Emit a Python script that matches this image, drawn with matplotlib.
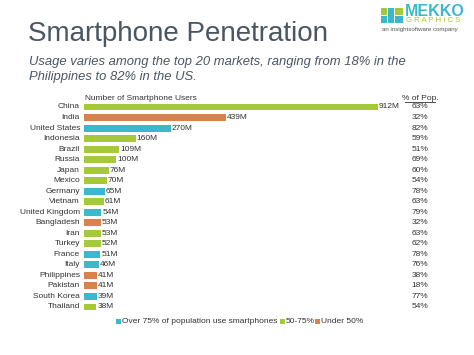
import matplotlib
matplotlib.use("Agg")
import matplotlib.pyplot as plt
from matplotlib.patches import Rectangle
import matplotlib.transforms as mtransforms

countries = ["China", "India", "United States", "Indonesia", "Brazil", "Russia", "Japan",
             "Mexico", "Germany", "Vietnam", "United Kingdom", "Bangladesh", "Iran", "Turkey",
             "France", "Italy", "Philippines", "Pakistan", "South Korea", "Thailand"]
users_m = [912, 439, 270, 160, 109, 100, 76, 70, 65, 61, 54, 53, 53, 52, 51, 46, 41, 41, 39, 38]
pct_pop = [63, 32, 82, 59, 51, 69, 60, 54, 78, 63, 79, 32, 63, 62, 78, 76, 38, 18, 77, 54]
groups = ["mid", "low", "high", "mid", "mid", "mid", "mid", "mid", "high", "mid", "high", "low",
          "mid", "mid", "high", "high", "low", "low", "high", "mid"]
legend_labels = ["Over 75% of population use smartphones", "50-75%", "Under 50%"]

colors = {"high": "#3cb8cc", "mid": "#a6c93c", "low": "#d9824b"}

plt.rcParams['font.family'] = ['Liberation Sans', 'DejaVu Sans']
W, H = 474, 355
fig = plt.figure(figsize=(W / 100, H / 100), dpi=100)

def fx(px):
    return px / W

def fy(py):
    return 1 - py / H

n = len(countries)
row = (307 - 107) / (n - 1)
top = 107 - row / 2
bot = 307 + row / 2
ax = fig.add_axes([fx(84), fy(bot), fx(378) - fx(84), (bot - top) / H])
ax.set_xlim(0, max(users_m))
ax.set_ylim(n - 0.5, -0.5)
ax.axis("off")

ys = list(range(n))
ax.barh(ys, users_m, height=0.66, color=[colors[g] for g in groups], linewidth=0)

label_color = "#333333"
fs = 6.0
blend_fig_x = mtransforms.blended_transform_factory(fig.transFigure, ax.transData)
for i, (c, v, p) in enumerate(zip(countries, users_m, pct_pop)):
    ax.text(fx(80), i, c, transform=blend_fig_x, ha="right", va="center",
            fontsize=fs, color=label_color)
    ax.text(v + 3, i, f"{v}M", ha="left", va="center", fontsize=fs,
            color=label_color, clip_on=False)
    ax.text(fx(420), i, f"{p}%", transform=blend_fig_x, ha="center", va="center",
            fontsize=fs, color=label_color)

# headers
fig.text(fx(85), fy(98), "Number of Smartphone Users", ha="left", va="center",
         fontsize=fs, color=label_color)
fig.text(fx(420), fy(98), "% of Pop.", ha="center", va="center",
         fontsize=fs, color=label_color)
fig.add_artist(plt.Line2D([fx(405), fx(435)], [fy(102), fy(102)], color=label_color, lw=0.6))

# title & subtitle
title_color = "#4a5663"
fig.text(fx(28), fy(34), "Smartphone Penetration", ha="left", va="center",
         fontsize=20, color=title_color)
fig.text(fx(29), fy(62), "Usage varies among the top 20 markets, ranging from 18% in the",
         ha="left", va="center", fontsize=9.4, style="italic", color=title_color)
fig.text(fx(29), fy(77), "Philippines to 82% in the US.",
         ha="left", va="center", fontsize=9.4, style="italic", color=title_color)

# legend
leg_items = [(116, colors["high"], legend_labels[0]),
             (280, colors["mid"], legend_labels[1]),
             (315, colors["low"], legend_labels[2])]
for x0, col, lab in leg_items:
    fig.add_artist(Rectangle((fx(x0), fy(324)), 5 / W, 5 / H, transform=fig.transFigure,
                             color=col, lw=0))
    fig.text(fx(x0 + 6), fy(321.5), lab, ha="left", va="center", fontsize=6.0,
             color=label_color)

# logo
sq = [(381, 8, 6, 7, colors["mid"]), (388, 8, 6, 15, colors["high"]),
      (395, 8, 8, 7, colors["mid"]), (381, 16, 6, 7, colors["high"]),
      (395, 16, 8, 7, colors["high"])]
for x0, y0, w, h, col in sq:
    fig.add_artist(Rectangle((fx(x0), fy(y0 + h)), w / W, h / H, transform=fig.transFigure,
                             color=col, lw=0))
fig.text(fx(405), fy(11), "MEKKO", ha="left", va="center", fontsize=11.5,
         fontweight="bold", color=colors["high"])
fig.text(fx(406), fy(20.5), "G R A P H I C S", ha="left", va="center", fontsize=5.6,
         color=colors["mid"])
fig.text(fx(382), fy(30), "an insightsoftware company", ha="left", va="center",
         fontsize=4.4, color="#555555")

fig.savefig("out.png", dpi=100)
